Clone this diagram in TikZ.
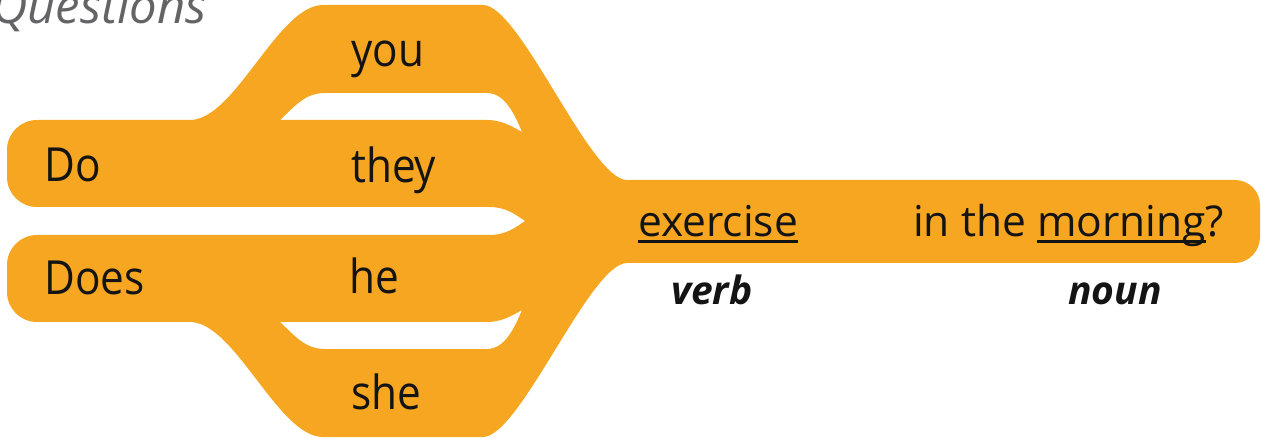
\documentclass[tikz,border=0pt]{standalone}
\usepackage{fontspec}
\setmainfont{Open Sans}
\newfontfamily\narrowfont[FakeStretch=0.9]{Open Sans}
\definecolor{band}{RGB}{246,166,32}
\definecolor{qgray}{RGB}{100,100,102}
\definecolor{ink}{RGB}{20,20,20}
\newcommand\myul[1]{\setbox0\hbox{#1}\rlap{\rule[-6pt]{\wd0}{2.5pt}}\box0}
\begin{document}
\begin{tikzpicture}[x=1pt,y=-1pt,
  leftword/.style={anchor=base west, inner sep=0pt, text=ink, font=\narrowfont\fontsize{47}{52}\selectfont},
  rightword/.style={anchor=base west, inner sep=0pt, text=ink, font=\fontsize{42.5}{48}\selectfont},
  poslabel/.style={anchor=base west, inner sep=0pt, text=ink, font=\fontsize{39}{44}\selectfont\bfseries\itshape},
  heading/.style={anchor=base west, inner sep=0pt, text=qgray, font=\fontsize{49}{54}\selectfont\itshape}]
\useasboundingbox (0,0) rectangle (1261,438);
% orange band shape with two holes
\fill[band, even odd rule]
  (37,120) -- (190,120)
  .. controls (235,120) and (278,5) .. (323,5)
  -- (483,5)
  .. controls (520,5) and (590,180) .. (627,180)
  -- (1235,180)
  .. controls (1248.8,180) and (1260,191.2) .. (1260,205)
  -- (1260,237)
  .. controls (1260,250.8) and (1248.8,263) .. (1235,263)
  -- (627,263)
  .. controls (590,263) and (520,437) .. (483,437)
  -- (323,437)
  .. controls (278,437) and (235,322) .. (190,322)
  -- (37,322)
  .. controls (20.4,322) and (7,308.6) .. (7,292)
  -- (7,265)
  .. controls (7,248.4) and (20.4,235) .. (37,235)
  -- (490,235)
  .. controls (505,235) and (515,228) .. (525,221)
  .. controls (515,214) and (505,207) .. (490,207)
  -- (37,207)
  .. controls (20.4,207) and (7,193.6) .. (7,177)
  -- (7,150)
  .. controls (7,133.4) and (20.4,120) .. (37,120) -- cycle
  (280,120) .. controls (295,106) and (305,93) .. (325,93)
  -- (487,93)
  .. controls (505,93) and (515,115) .. (522,132)
  .. controls (510,125) and (500,120) .. (487,120) -- cycle
  (280,322) .. controls (295,336) and (305,349) .. (325,349)
  -- (487,349)
  .. controls (505,349) and (515,327) .. (522,310)
  .. controls (510,317) and (500,322) .. (487,322) -- cycle;
% heading
\node[heading] (questions) at (-8,24) {Questions};
% left words
\node[leftword] (do) at (44,182) {Do};
\node[leftword] (does) at (44,295) {Does};
\node[leftword] (you) at (351,67) {you};
\node[leftword] (they) at (351,183) {they};
\node[leftword] (he) at (349,294) {he};
\node[leftword] (she) at (351,409) {she};
% right words
\node[rightword] (exercise) at (638,237) {\myul{exercise}};
\node[rightword] (rest) at (913,237) {in the \myul{morning}?};
\node[poslabel] (verb) at (671,305) {verb};
\node[poslabel] (noun) at (1068,305) {noun};
\end{tikzpicture}
\end{document}
